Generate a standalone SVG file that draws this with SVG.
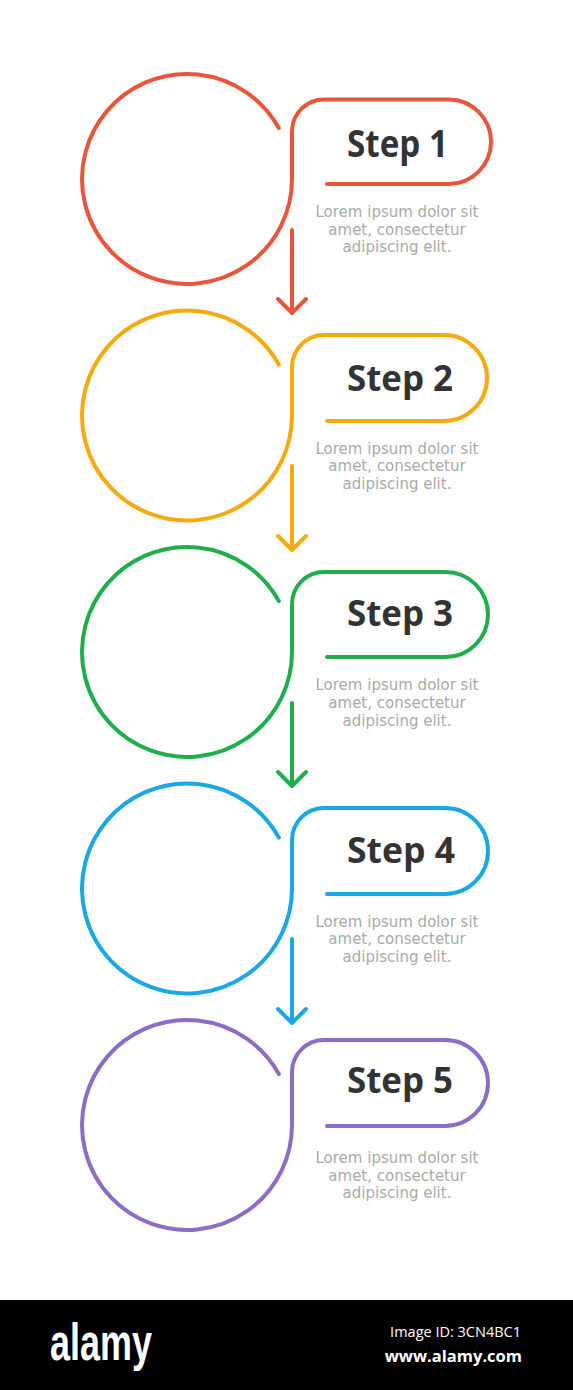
<svg xmlns="http://www.w3.org/2000/svg" width="573" height="1390" viewBox="0 0 573 1390">
<style>
.o{fill:none;stroke-width:4;stroke-linecap:round;stroke-linejoin:round}
.t{font-family:"Open Sans","Noto Sans",sans-serif;font-weight:700;font-size:37px;fill:#333333}
.d{font-family:"DejaVu Sans","Noto Sans",sans-serif;font-size:15px;fill:#aaaaaa;text-anchor:middle}
.c1{stroke:#E8553A}.c2{stroke:#F6AA10}.c3{stroke:#1FAE4B}.c4{stroke:#1BA7E6}.c5{stroke:#8D6CC6}
</style>
<rect width="573" height="1390" fill="#ffffff"/>
<g id="step1">
<path class="o c1" d="M278.83 128.09 A105 105 0 1 0 292 179 V131 A32 32 0 0 1 324 99.5 H448.75 A42.25 42.25 0 0 1 448.75 184 H327"/>
<text class="t" x="347" y="157" textLength="101" lengthAdjust="spacingAndGlyphs">Step 1</text>
<text class="d" x="397" y="217">Lorem ipsum dolor sit</text>
<text class="d" x="397" y="234.5">amet, consectetur</text>
<text class="d" x="397" y="252">adipiscing elit.</text>
</g>
<g id="step2">
<path class="o c2" d="M278.83 364.59 A105 105 0 1 0 292 415.5 V367 A32 32 0 0 1 324 335 H444 A43 43 0 0 1 444 421 H327"/>
<text class="t" x="347" y="391" textLength="106" lengthAdjust="spacingAndGlyphs" style="font-size:36px">Step 2</text>
<text class="d" x="397" y="453.5">Lorem ipsum dolor sit</text>
<text class="d" x="397" y="471">amet, consectetur</text>
<text class="d" x="397" y="489">adipiscing elit.</text>
</g>
<g id="step3">
<path class="o c3" d="M278.83 601.09 A105 105 0 1 0 292 652 V604 A32 32 0 0 1 324 572 H445.5 A42.5 42.5 0 0 1 445.5 657 H327"/>
<text class="t" x="347" y="626" textLength="106" lengthAdjust="spacingAndGlyphs" style="font-size:36px">Step 3</text>
<text class="d" x="397" y="690">Lorem ipsum dolor sit</text>
<text class="d" x="397" y="708">amet, consectetur</text>
<text class="d" x="397" y="725.5">adipiscing elit.</text>
</g>
<g id="step4">
<path class="o c4" d="M278.83 837.59 A105 105 0 1 0 292 888.5 V840 A32 32 0 0 1 324 808 H445 A43 43 0 0 1 445 894 H327"/>
<text class="t" x="347" y="863" textLength="108" lengthAdjust="spacingAndGlyphs" style="font-size:36px">Step 4</text>
<text class="d" x="397" y="926.5">Lorem ipsum dolor sit</text>
<text class="d" x="397" y="944">amet, consectetur</text>
<text class="d" x="397" y="962">adipiscing elit.</text>
</g>
<g id="step5">
<path class="o c5" d="M278.83 1074.09 A105 105 0 1 0 292 1125 V1072 A32 32 0 0 1 324 1040 H445 A43 43 0 0 1 445 1126 H327"/>
<text class="t" x="347" y="1093" textLength="106" lengthAdjust="spacingAndGlyphs" style="font-size:36px">Step 5</text>
<text class="d" x="397" y="1163">Lorem ipsum dolor sit</text>
<text class="d" x="397" y="1180.5">amet, consectetur</text>
<text class="d" x="397" y="1198">adipiscing elit.</text>
</g>
<g id="connectors">
<path class="o c1" d="M292 230 V313 M278 299 L292 313 L306 299"/>
<path class="o c2" d="M292 466 V550 M278 536 L292 550 L306 536"/>
<path class="o c3" d="M292 703 V786 M278 772 L292 786 L306 772"/>
<path class="o c4" d="M292 939 V1023 M278 1009 L292 1023 L306 1009"/>
</g>
<g id="banner">
<rect x="0" y="1300" width="573" height="90" fill="#000000"/>
<text x="50" y="1360" font-family="Liberation Sans, sans-serif" font-weight="700" font-size="52" fill="#ffffff" textLength="102" lengthAdjust="spacingAndGlyphs">alamy</text>
<text x="521" y="1337" font-family="Open Sans, sans-serif" font-size="14.5" fill="#ffffff" text-anchor="end">Image ID: 3CN4BC1</text>
<text x="522" y="1362" font-family="Open Sans, sans-serif" font-weight="700" font-size="16.5" fill="#ffffff" text-anchor="end">www.alamy.com</text>
</g>
</svg>
